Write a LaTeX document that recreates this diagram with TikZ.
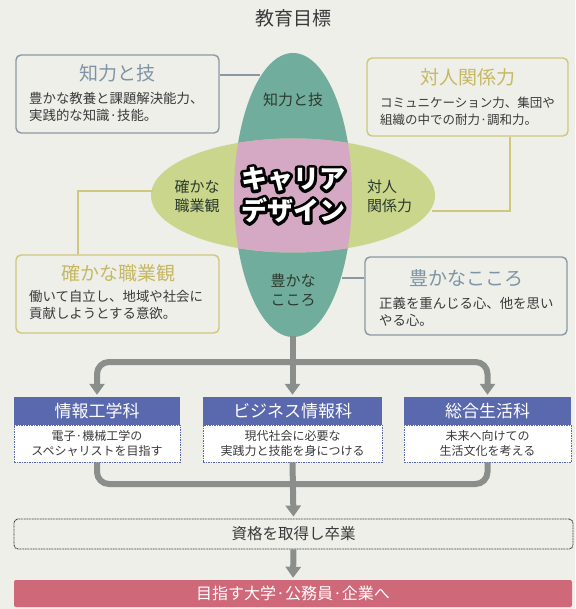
\documentclass[tikz,border=0pt]{standalone}
\usepackage{fontspec}
\setmainfont{Noto Sans CJK JP}
\usetikzlibrary{arrows.meta}
\definecolor{paper}{HTML}{EDEFE8}
\definecolor{teal1}{HTML}{71AD9D}
\definecolor{lime1}{HTML}{C9D68C}
\definecolor{pink1}{HTML}{D5A9C4}
\definecolor{bluegray}{HTML}{8A98A4}
\definecolor{bgtitle}{HTML}{7F93A6}
\definecolor{olive}{HTML}{CFC77C}
\definecolor{olivetitle}{HTML}{C6B864}
\definecolor{deptblue}{HTML}{5A69AE}
\definecolor{arrowgray}{HTML}{8B8F8B}
\definecolor{goalred}{HTML}{CF6878}
\definecolor{txt}{HTML}{3A3A3A}
\definecolor{elltxt}{HTML}{2C3A2E}
\newcommand{\fs}[2]{\fontsize{#1}{#2}\selectfont}
\begin{document}
\begin{tikzpicture}[x=1pt,y=-1pt,
  infobox/.style={draw=#1, line width=1.4pt, rounded corners=5pt, inner sep=0pt, minimum height=78pt},
  boxtitle/.style={text=#1, font=\fs{19}{22}, inner sep=0pt},
  boxbody/.style={text=txt, font=\fs{13.4}{16.5}, align=left, anchor=west, inner sep=0pt},
  elabel/.style={text=elltxt, font=\fs{15}{19}, align=center, inner sep=0pt},
  depthead/.style={fill=deptblue, text=white, font=\fs{17}{20}, inner sep=0pt, minimum height=28pt},
  deptbody/.style={fill=white, draw=deptblue, line width=0.8pt, dash pattern=on 1.5pt off 1pt, text=txt, font=\fs{12}{15}, align=center, inner sep=0pt, minimum height=37pt},
  conn/.style={draw=#1, line width=1.3pt},
  arr/.style={draw=arrowgray, line width=6pt, rounded corners=12pt, -{Triangle[width=15pt,length=11pt]}, shorten >=2pt},
  pipe/.style={draw=arrowgray, line width=6pt, rounded corners=12pt}
]
\useasboundingbox (0,0) rectangle (575,609);
\fill[paper] (0,0) rectangle (575,609);

% title
\node[text=txt, font=\fs{19}{22}, inner sep=0pt] (title) at (293,18) {教育目標};

% ellipses
\fill[teal1] (293,195) ellipse [x radius=59, y radius=142];
\fill[lime1] (293,195.5) ellipse [x radius=142, y radius=57];
\begin{scope}
  \clip (293,195) ellipse [x radius=59, y radius=142];
  \fill[pink1] (293,195.5) ellipse [x radius=142, y radius=57];
\end{scope}

% ellipse labels
\node[elabel] (eTop) at (293,100) {知力と技};
\node[elabel] (eLeft) at (197,196) {確かな\\職業観};
\node[elabel, align=left] (eRight) at (389.5,196) {対人\\関係力};
\node[elabel] (eBot) at (293,290) {豊かな\\こころ};

% central outlined text
\node[text=black, font=\bfseries\fs{26}{32}, align=center, inner sep=0pt] (cdOutline) at (293,195)
  {\special{pdf:literal direct 1 Tr 6 w 1 j 1 J}キャリア\\デザイン\special{pdf:literal direct 0 Tr 1 w}};
\node[text=white, font=\bfseries\fs{26}{32}, align=center, inner sep=0pt] (cd) at (293,195) {キャリア\\デザイン};

% info boxes
\node[infobox=bluegray, minimum width=203pt] (boxA) at (117.5,94) {};
\node[boxtitle=bgtitle] (titA) at (117.5,73) {知力と技};
\node[boxbody] (bodA) at (29,107) {豊かな教養と課題解決能力、\\実践的な知識·技能。};

\node[infobox=olive, minimum width=201pt] (boxB) at (467.5,97) {};
\node[boxtitle=olivetitle] (titB) at (468,77) {対人関係力};
\node[boxbody, font=\fs{12.5}{17}] (bodB) at (380,111.5) {コミュニケーション力、集団や\\組織の中での耐力·調和力。};

\node[infobox=olive, minimum width=203pt] (boxC) at (117.5,294) {};
\node[boxtitle=olivetitle] (titC) at (118,273) {確かな職業観};
\node[boxbody] (bodC) at (29,305) {働いて自立し、地域や社会に\\貢献しようとする意欲。};

\node[infobox=bluegray, minimum width=202pt] (boxD) at (466,296) {};
\node[boxtitle=bgtitle] (titD) at (466,278) {豊かなこころ};
\node[boxbody] (bodD) at (379,312) {正義を重んじる心、他を思い\\やる心。};

% connector end points on ellipses
\coordinate (cA) at (260,75);
\coordinate (cB) at (432,211);
\coordinate (cC) at (153,191);
\coordinate (cD) at (342,278);
\draw[conn=bluegray] (boxA.east |- cA) -- (cA);
\draw[conn=olive] (boxB.south -| 510,0) |- (cB);
\draw[conn=olive] (boxC.north -| 78,0) |- (cC);
\draw[conn=bluegray] (boxD.west |- cD) -- (cD);

% departments
\node[depthead, minimum width=166pt] (d1h) at (97,411) {情報工学科};
\node[deptbody, minimum width=166pt] (d1b) at (97,443.5) {電子·機械工学の\\スペシャリストを目指す};
\node[depthead, minimum width=179pt] (d2h) at (292.5,411) {ビジネス情報科};
\node[deptbody, minimum width=179pt] (d2b) at (292.5,443.5) {現代社会に必要な\\実践力と技能を身につける};
\node[depthead, minimum width=167pt] (d3h) at (487.5,411) {総合生活科};
\node[deptbody, minimum width=167pt] (d3b) at (487.5,443.5) {未来へ向けての\\生活文化を考える};

% qualification and goal
\node[draw=txt, line width=0.9pt, dash pattern=on 1pt off 0.6pt, rounded corners=4pt, fill=paper,
      minimum width=559pt, minimum height=30pt, inner sep=0pt, text=txt, font=\fs{15.5}{18}] (qual) at (293.5,534) {資格を取得し卒業};
\node[fill=goalred, rounded corners=2pt, minimum width=558pt, minimum height=27pt, inner sep=0pt,
      text=white, font=\fs{16}{19}] (goal) at (293,593.5) {目指す大学·公務員·企業へ};

% flow arrows
\coordinate (ebot) at (292.5,336);
\coordinate (split) at (292.5,362);
\coordinate (merge) at (292.5,484);
\draw[arr] (ebot) -- (d2h.north);
\draw[arr] (split) -| (d1h.north);
\draw[arr] (split) -| (d3h.north);
\draw[pipe] (d1b.south) |- (merge) -| (d3b.south);
\draw[arr] (d2b.south) -- (qual.north);
\draw[arr] (qual.south) -- (goal.north);
\end{tikzpicture}
\end{document}
